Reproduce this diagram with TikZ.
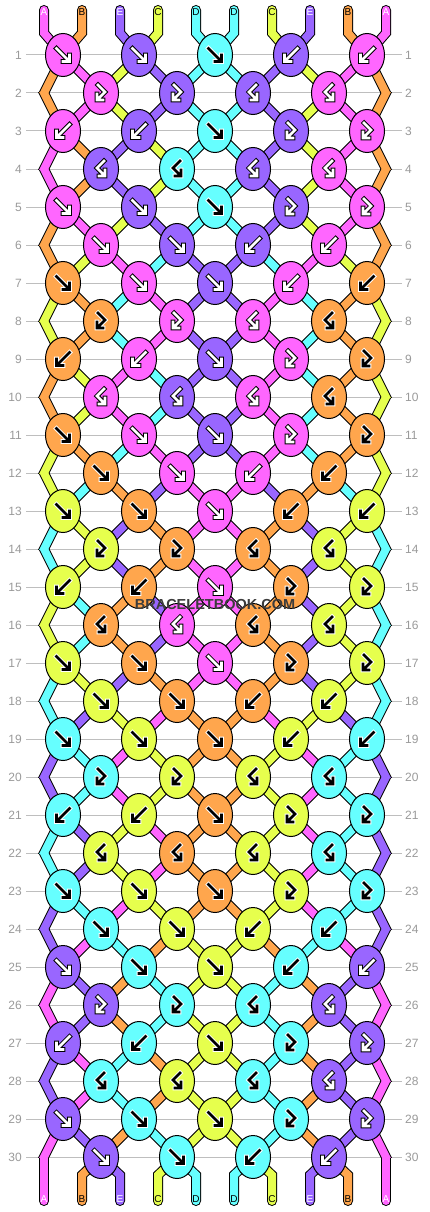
\documentclass[tikz,border=0pt]{standalone}
\usepackage{fontspec}
\setmainfont{Liberation Sans}
\usetikzlibrary{shapes.geometric,calc}
\definecolor{colA}{HTML}{FF66FF}
\definecolor{colB}{HTML}{FFA64D}
\definecolor{colC}{HTML}{E6FF4D}
\definecolor{colD}{HTML}{66FFFF}
\definecolor{colE}{HTML}{9966FF}
\definecolor{gridgray}{HTML}{BEBEBE}
\definecolor{labgray}{HTML}{9A9A9A}
\definecolor{wmgray}{HTML}{3C3C3C}
\colorlet{fgA}{white}\colorlet{fgE}{white}\colorlet{fgB}{black}\colorlet{fgC}{black}\colorlet{fgD}{black}
\colorlet{bgA}{black}\colorlet{bgE}{black}\colorlet{bgB}{white}\colorlet{bgC}{white}\colorlet{bgD}{white}
% knot types: 1=F, 2=B, 3=FB, 4=BF
\def\TLa{1,1,1,2,2}
\def\TLb{3,3,4,4}
\def\TLc{2,2,1,3,3}
\def\TLd{4,4,4,4}
\def\TLe{1,1,1,3,3}
\def\TLf{1,1,2,2}
\newcommand\SC[2]{\csname S#1-#2\endcsname}
\newcommand\strcol[3]{\ifnum#1=0 \def\scol{black}\def\sw{10}\else\edef\scol{col\SC{#2}{#3}}\def\sw{8}\fi}
\tikzset{
  str/.style={line width=\sw pt,draw=\scol,line cap=round,line join=miter},
  glyline/.style={line cap=rect,line join=miter},
  knot/.style={ellipse,draw=black,line width=1pt,minimum width=35pt,minimum height=43pt,inner sep=0pt},
  rowlab/.style={font=\fontsize{12}{12}\selectfont,text=labgray,inner sep=0pt},
  strlab/.style={font=\fontsize{10}{10}\selectfont,inner sep=0pt},
  gridline/.style={draw=gridgray,line width=1pt}
}
\newcommand\GlyF[2]{\foreach \gw/\gc in {4.6/#2,2.6/#1}{\draw[glyline,line width=\gw pt,draw=\gc] (-6.5,-6.5)--(5,5) (0,6.5)--(6.5,6.5)--(6.5,0);}}
\newcommand\GlyB[2]{\foreach \gw/\gc in {4.6/#2,2.6/#1}{\draw[glyline,line width=\gw pt,draw=\gc] (6.5,-6.5)--(-5,5) (0,6.5)--(-6.5,6.5)--(-6.5,0);}}
\newcommand\GlyFB[2]{\foreach \gw/\gc in {4.6/#2,2.6/#1}{\draw[glyline,line width=\gw pt,draw=\gc] (-3,-8)--(4,-1)--(-2.5,5.5) (-4,1)--(-4,7)--(2,7);}}
\newcommand\GlyBF[2]{\foreach \gw/\gc in {4.6/#2,2.6/#1}{\draw[glyline,line width=\gw pt,draw=\gc] (3,-8)--(-4,-1)--(2.5,5.5) (4,1)--(4,7)--(-2,7);}}
\newcommand\kglyph[2]{\ifcase#1\relax\or\GlyF{fg#2}{bg#2}\or\GlyB{fg#2}{bg#2}\or\GlyFB{fg#2}{bg#2}\or\GlyBF{fg#2}{bg#2}\fi}
\newcommand\strpass[1]{%
  \foreach \pp in {1,...,10}{\strcol{#1}{0}{\pp}\draw[str] (T-\pp) -- (TB-\pp) -- (P-1-\pp);}
  \foreach \rr in {1,...,29}{\pgfmathtruncatemacro\rn{\rr+1}%
    \foreach \pp in {2,...,9}{\strcol{#1}{\rr}{\pp}\draw[str] (P-\rr-\pp) -- (P-\rn-\pp);}}
  \foreach \rr in {2,4,...,30}{%
    \pgfmathtruncatemacro\ra{\rr-1}\pgfmathtruncatemacro\rb{\rr+1}%
    \pgfmathsetmacro\ya{55+38*(\ra-1)}\pgfmathsetmacro\yb{\ya+38}\pgfmathsetmacro\yc{\yb+38}%
    \strcol{#1}{\ra}{1}%
    \begin{scope}\clip (0,\ya) rectangle (430,\yb); \draw[str] (P-\ra-1) -- ($(P-\ra-1)!2!(eL-\rr)$);\end{scope}
    \strcol{#1}{\ra}{10}%
    \begin{scope}\clip (0,\ya) rectangle (430,\yb); \draw[str] (P-\ra-10) -- ($(P-\ra-10)!2!(eR-\rr)$);\end{scope}
    \ifnum\rr<30
      \strcol{#1}{\rr}{1}%
      \begin{scope}\clip (0,\yb) rectangle (430,\yc); \draw[str] ($(P-\rb-1)!2!(eL-\rr)$) -- (P-\rb-1);\end{scope}
      \strcol{#1}{\rr}{10}%
      \begin{scope}\clip (0,\yb) rectangle (430,\yc); \draw[str] ($(P-\rb-10)!2!(eR-\rr)$) -- (P-\rb-10);\end{scope}
    \else
      \strcol{#1}{\rr}{1}%
      \begin{scope}\clip (0,\yb) rectangle (430,1212); \draw[str] ($(eL-\rr)+(0,-10)$) -- (BE-1);\end{scope}
      \strcol{#1}{\rr}{10}%
      \begin{scope}\clip (0,\yb) rectangle (430,1212); \draw[str] ($(eR-\rr)+(0,-10)$) -- (BE-10);\end{scope}
    \fi}
  \foreach \pp in {2,...,9}{\strcol{#1}{30}{\pp}\draw[str] (P-30-\pp) -- (BB-\pp) -- (BE-\pp);}
}
\begin{document}
\begin{tikzpicture}[x=1pt,y=-1pt]
\useasboundingbox (0,0) rectangle (430,1212);
\fill[white] (0,0) rectangle (430,1212);
% string states after each row
\foreach \rr/\st in {
 0/{A,B,E,C,D,D,C,E,B,A}, 1/{B,A,C,E,D,D,E,C,A,B}, 2/{B,A,C,E,D,D,E,C,A,B},
 3/{A,B,E,C,D,D,E,C,A,B}, 4/{A,B,E,C,D,D,E,C,A,B}, 5/{B,A,C,E,D,D,E,C,A,B},
 6/{B,C,A,D,E,E,D,A,C,B}, 7/{C,B,D,A,E,E,A,D,B,C}, 8/{C,B,D,A,E,E,A,D,B,C},
 9/{B,C,A,D,E,E,A,D,B,C}, 10/{B,C,A,D,E,E,A,D,B,C}, 11/{C,B,D,A,E,E,A,D,B,C},
 12/{C,D,B,E,A,A,E,B,D,C}, 13/{D,C,E,B,A,A,B,E,C,D}, 14/{D,C,E,B,A,A,B,E,C,D},
 15/{C,D,B,E,A,A,B,E,C,D}, 16/{C,D,B,E,A,A,B,E,C,D}, 17/{D,C,E,B,A,A,B,E,C,D},
 18/{D,E,C,A,B,B,A,C,E,D}, 19/{E,D,A,C,B,B,C,A,D,E}, 20/{E,D,A,C,B,B,C,A,D,E},
 21/{D,E,C,A,B,B,C,A,D,E}, 22/{D,E,C,A,B,B,C,A,D,E}, 23/{E,D,A,C,B,B,C,A,D,E},
 24/{E,A,D,B,C,C,B,D,A,E}, 25/{A,E,B,D,C,C,D,B,E,A}, 26/{A,E,B,D,C,C,D,B,E,A},
 27/{E,A,D,B,C,C,D,B,E,A}, 28/{E,A,D,B,C,C,D,B,E,A}, 29/{A,E,B,D,C,C,D,B,E,A},
 30/{A,B,E,C,D,D,C,E,B,A}}{%
  \foreach \cc [count=\pp] in \st {\expandafter\xdef\csname S\rr-\pp\endcsname{\cc}}}
% coordinates
\foreach \rr in {1,...,30}{%
  \pgfmathsetmacro\yy{55+38*(\rr-1)}%
  \ifodd\rr\relax
    \foreach \kk in {1,...,5}{\pgfmathsetmacro\xx{63+76*(\kk-1)}\coordinate (n-\rr-\kk) at (\xx,\yy);}
    \foreach \pp in {1,...,10}{\pgfmathtruncatemacro\kq{(\pp+1)/2}\coordinate (P-\rr-\pp) at (n-\rr-\kq);}
  \else
    \foreach \kk in {1,...,4}{\pgfmathsetmacro\xx{101+76*(\kk-1)}\coordinate (n-\rr-\kk) at (\xx,\yy);}
    \coordinate (eL-\rr) at (44,\yy);
    \coordinate (eR-\rr) at (386,\yy);
    \coordinate (P-\rr-1) at (eL-\rr);
    \coordinate (P-\rr-10) at (eR-\rr);
    \foreach \pp in {2,...,9}{\pgfmathtruncatemacro\kq{\pp/2}\coordinate (P-\rr-\pp) at (n-\rr-\kq);}
  \fi
  \draw[gridline] (26,\yy) -- (402,\yy);
  \node[rowlab,anchor=east] (LL-\rr) at (22,\yy) {\rr};
  \node[rowlab,anchor=west] (RL-\rr) at (405,\yy) {\rr};
}
\foreach \pp in {1,...,10}{%
  \pgfmathsetmacro\xx{44+38*(\pp-1)}%
  \coordinate (T-\pp) at (\xx,10);
  \coordinate (TB-\pp) at (\xx,33);
  \coordinate (BB-\pp) at (\xx,1175);
  \coordinate (BE-\pp) at (\xx,1201);
}
% strings
\strpass{0}
\strpass{1}
% knots
\foreach \rr in {1,...,30}{%
  \pgfmathtruncatemacro\mm{mod(\rr-1,6)}%
  \pgfmathtruncatemacro\pr{\rr-1}%
  \ifcase\mm\relax \let\TL\TLa\or\let\TL\TLb\or\let\TL\TLc\or\let\TL\TLd\or\let\TL\TLe\or\let\TL\TLf\fi
  \foreach \kt [count=\kk] in \TL {%
    \ifodd\rr\relax\pgfmathtruncatemacro\lp{2*\kk-1}\else\pgfmathtruncatemacro\lp{2*\kk}\fi
    \pgfmathtruncatemacro\rp{\lp+1}%
    \ifodd\kt\relax\edef\kc{\SC{\pr}{\lp}}\else\edef\kc{\SC{\pr}{\rp}}\fi
    \node[knot,fill=col\kc] (K-\rr-\kk) at (n-\rr-\kk) {};
    \begin{scope}[shift={(n-\rr-\kk)}]\kglyph{\kt}{\kc}\end{scope}
  }
}
% string letters
\foreach \pp in {1,...,10}{%
  \edef\ct{\SC{0}{\pp}}\edef\cb{\SC{30}{\pp}}%
  \node[strlab,text=fg\ct] (TL-\pp) at ($(T-\pp)+(0,2.5)$) {\ct};
  \node[strlab,text=fg\cb] (BL-\pp) at ($(BE-\pp)+(0,-2)$) {\cb};
}
\node[font=\bfseries\fontsize{14.5}{14.5}\selectfont,text=wmgray,inner sep=0pt] (wm) at (215,605) {BRACELETBOOK.COM};
\end{tikzpicture}
\end{document}
